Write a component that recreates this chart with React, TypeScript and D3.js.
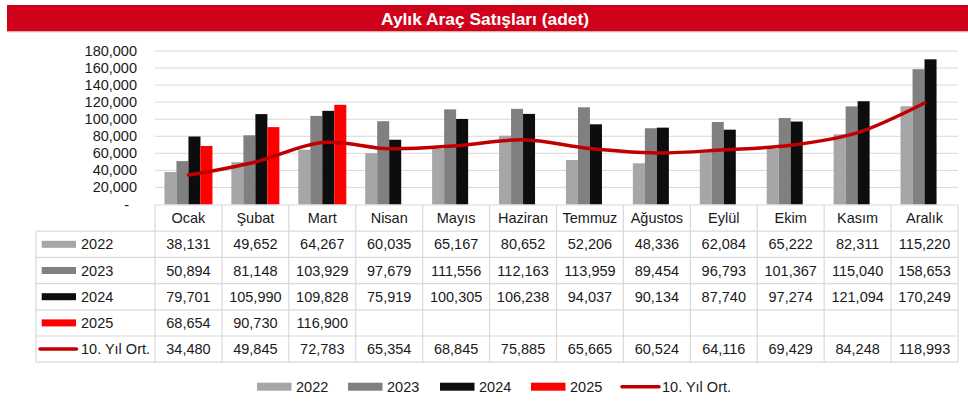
import React from "react";
import * as d3 from "d3";

const months = ["Ocak", "Şubat", "Mart", "Nisan", "Mayıs", "Haziran", "Temmuz", "Ağustos", "Eylül", "Ekim", "Kasım", "Aralık"];
const s2022 = [38131, 49652, 64267, 60035, 65167, 80652, 52206, 48336, 62084, 65222, 82311, 115220];
const s2023 = [50894, 81148, 103929, 97679, 111556, 112163, 113959, 89454, 96793, 101367, 115040, 158653];
const s2024 = [79701, 105990, 109828, 75919, 100305, 106238, 94037, 90134, 87740, 97274, 121094, 170249];
const s2025 = [68654, 90730, 116900];
const avg10 = [34480, 49845, 72783, 65354, 68845, 75885, 65665, 60524, 64116, 69429, 84248, 118993];
const yTicks = [0, 20000, 40000, 60000, 80000, 100000, 120000, 140000, 160000, 180000];
const title = "Aylık Araç Satışları (adet)";
const barNames = ["2022", "2023", "2024", "2025"];
const lineName = "10. Yıl Ort.";

const barSeries = [s2022, s2023, s2024, s2025];
const barColors = ["#A6A6A6", "#808080", "#0D0D0D", "#FF0000"];
const lineColor = "#C00000";
const FONT = "'Liberation Sans', Arial, sans-serif";
const fmt = d3.format(",");

export default function App() {
  const W = 968, H = 405;
  const plotL = 155, plotR = 958, plotT = 51, plotB = 204.5;
  const x = d3.scaleBand<string>().domain(months).range([plotL, plotR]).paddingInner(0).paddingOuter(0);
  const bw = x.bandwidth();
  const groupW = 48;
  const xs = d3.scaleBand<string>().domain(barNames).range([(bw - groupW) / 2, (bw + groupW) / 2]).padding(0);
  const y = d3.scaleLinear().domain([0, 180000]).range([plotB, plotT]);

  const line = d3.line<number>()
    .x((_, i) => (x(months[i]) as number) + bw / 2)
    .y((d) => y(d))
    .curve(d3.curveCatmullRom.alpha(0));

  const tableTop = 205;
  const rowH = 26.2;
  const headerBottom = tableTop + rowH;
  const tableLeft = 36;
  const rows = [...barSeries, avg10];
  const rowNames = [...barNames, lineName];
  const tableBottom = headerBottom + rows.length * rowH;
  const grid = "#D9D9D9";
  const textColor = "#1a1a1a";

  const legendItems = [
    { name: "2022", kx: 257, tx: 296, color: barColors[0], line: false },
    { name: "2023", kx: 348, tx: 387, color: barColors[1], line: false },
    { name: "2024", kx: 440, tx: 479, color: barColors[2], line: false },
    { name: "2025", kx: 531, tx: 570, color: barColors[3], line: false },
    { name: lineName, kx: 621, tx: 662, color: lineColor, line: true },
  ];

  return (
    <svg width={W} height={H} style={{ position: "absolute", left: 0, top: 0, background: "#fff" }} fontFamily={FONT}>
      <rect x={7} y={5} width={961} height={26.5} fill="#D0021B" />
      <line x1={7} x2={968} y1={32} y2={32} stroke="#D9D9D9" strokeWidth={1} />
      <text x={485} y={24.5} textAnchor="middle" fill="#fff" fontWeight="bold" fontSize={16} textLength={208} lengthAdjust="spacingAndGlyphs">{title}</text>

      {yTicks.map((t) => (
        <g key={t}>
          {t > 0 && <line x1={plotL} x2={plotR} y1={y(t)} y2={y(t)} stroke={grid} strokeWidth={1} />}
          <text x={t === 0 ? 129 : 137} y={y(t) + 5} textAnchor="end" fontSize={14.5} fill={textColor}>
            {t === 0 ? "-" : fmt(t)}
          </text>
        </g>
      ))}

      {barSeries.map((s, si) =>
        s.map((v, i) => (
          <rect
            key={`${si}-${i}`}
            x={(x(months[i]) as number) + (xs(barNames[si]) as number)}
            y={y(v)}
            width={xs.bandwidth()}
            height={plotB - y(v)}
            fill={barColors[si]}
          />
        ))
      )}

      <path d={line(avg10) || ""} fill="none" stroke={lineColor} strokeWidth={3.5} strokeLinejoin="round" strokeLinecap="round" />

      <g stroke={grid} strokeWidth={1.2}>
        <line x1={plotL} x2={plotR} y1={tableTop} y2={tableTop} />
        {rows.map((_, r) => (
          <line key={r} x1={tableLeft} x2={plotR} y1={headerBottom + r * rowH} y2={headerBottom + r * rowH} />
        ))}
        <line x1={tableLeft} x2={plotR} y1={tableBottom} y2={tableBottom} />
        <line x1={tableLeft} x2={tableLeft} y1={headerBottom} y2={tableBottom} />
        {months.map((m) => (
          <line key={m} x1={x(m) as number} x2={x(m) as number} y1={tableTop} y2={tableBottom} />
        ))}
        <line x1={plotR} x2={plotR} y1={tableTop} y2={tableBottom} />
      </g>

      {months.map((m) => (
        <text key={m} x={(x(m) as number) + bw / 2} y={tableTop + rowH / 2 + 5} textAnchor="middle" fontSize={14.5} fill={textColor}>
          {m}
        </text>
      ))}

      {rows.map((s, r) => {
        const cy = headerBottom + r * rowH + rowH / 2;
        return (
          <g key={r}>
            {r < 4 ? (
              <rect x={41.7} y={cy - 3.5} width={34.3} height={7} fill={barColors[r]} />
            ) : (
              <line x1={40} x2={76.5} y1={cy} y2={cy} stroke={lineColor} strokeWidth={3.5} strokeLinecap="round" />
            )}
            <text x={81} y={cy + 5} fontSize={14.5} fill={textColor}>{rowNames[r]}</text>
            {s.map((v, i) => (
              <text key={i} x={(x(months[i]) as number) + bw / 2} y={cy + 5} textAnchor="middle" fontSize={14.5} fill={textColor}>
                {fmt(v)}
              </text>
            ))}
          </g>
        );
      })}

      {legendItems.map((it) => (
        <g key={it.name}>
          {it.line ? (
            <line x1={it.kx + 1} x2={it.kx + 38} y1={386.7} y2={386.7} stroke={it.color} strokeWidth={3.5} strokeLinecap="round" />
          ) : (
            <rect x={it.kx} y={382.7} width={34.5} height={8} fill={it.color} />
          )}
          <text x={it.tx} y={391.7} fontSize={14.5} fill={textColor}>{it.name}</text>
        </g>
      ))}
    </svg>
  );
}
